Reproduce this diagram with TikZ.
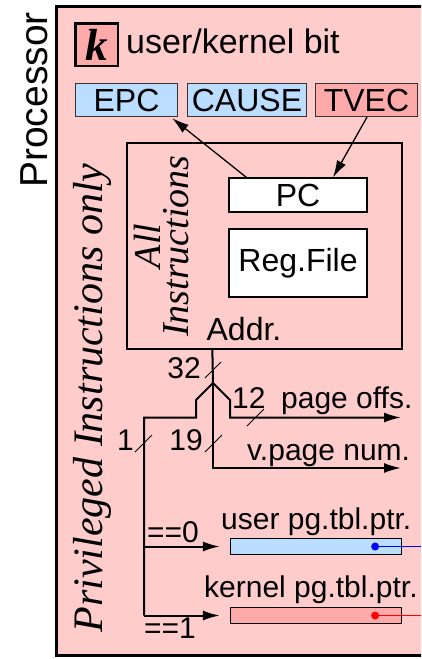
\documentclass[tikz,border=0pt]{standalone}
\usepackage{fontspec}
\setmainfont{Liberation Serif}
\newfontfamily\hv{Liberation Sans}
\usetikzlibrary{arrows.meta,calc}
\definecolor{bgpink}{RGB}{255,204,204}
\definecolor{dkpink}{RGB}{255,170,170}
\definecolor{ltblue}{RGB}{187,221,255}
\begin{document}
\begin{tikzpicture}[x=1pt,y=-1pt,
  lbl/.style={font=\hv\fontsize{30}{30}\selectfont, inner sep=0pt},
  reg/.style={draw=black!80, line width=1.3pt, inner sep=0pt, font=\hv\fontsize{32}{32}\selectfont},
  wbox/.style={draw, line width=1.3pt, inner sep=0pt, font=\hv\fontsize{32}{32}\selectfont},
  bus/.style={line width=2pt, line join=miter},
  arr/.style={-{Latex[length=17pt,width=10pt]}},
  slashmark/.style={line width=1pt},
  ital/.style={inner sep=0pt, rotate=90, anchor=base}
]
\useasboundingbox (0,0) rectangle (421,659);
\clip (0,0) rectangle (421,659);
\draw[line width=3pt, fill=bgpink] (56.5,6) rectangle (440,655.5);
\node[rotate=90, anchor=base, font=\hv\fontsize{39}{39}\selectfont, inner sep=0pt] (proc) at (47,100) {Processor};

% user/kernel bit
\node[draw, line width=2.5pt, fill=dkpink, minimum width=42.5pt, minimum height=42.5pt, inner sep=0pt,
  font=\fontsize{45}{45}\selectfont\bfseries\itshape] (kbit) at (96.5,44.5) {k};
\node[anchor=base west, font=\hv\fontsize{34}{34}\selectfont, inner sep=0pt] (ukb) at (126,53) {user/kernel bit};

% special registers
\node[reg, fill=ltblue, minimum width=102pt, minimum height=33pt] (epc) at (126.5,100) {EPC};
\node[reg, fill=ltblue, minimum width=119pt, minimum height=33pt] (cause) at (247,100) {CAUSE};
\node[reg, fill=dkpink, minimum width=102pt, minimum height=33pt] (tvec) at (366.5,100) {TVEC};

% all instructions box
\node[draw, line width=1.3pt, minimum width=275pt, minimum height=206pt, inner sep=0pt] (inst) at (264.5,246) {};
\node[wbox, fill=white, minimum width=138pt, minimum height=34pt] (pc) at (298,195) {PC};
\node[wbox, fill=white, minimum width=138pt, minimum height=68pt] (regf) at (298,263) {Reg.File};
\node[anchor=base, inner sep=0pt, font=\hv\fontsize{32}{32}\selectfont] (addr) at (244,340) {Addr.};
\node[ital, font=\fontsize{38}{38}\selectfont\itshape] (allA) at (160,246) {All};
\node[ital, font=\fontsize{38}{38}\selectfont\itshape] (allB) at (188,246) {Instructions};
\node[ital, font=\fontsize{42}{42}\selectfont\itshape] (priv) at (102,398) {Privileged Instructions only};

% PC arrows
\draw[arr, line width=1.3pt] ($(pc.north west)+(18,0)$) -- ($(epc.south east)+(-6,1)$);
\draw[arr, line width=1.3pt] ($(tvec.south)+(0.5,0)$) -- ($(pc.north)+(35,0)$);

% address bus
\coordinate (a0) at ($(inst.south west)+(86,0)$);
\coordinate (J) at (213,383);
\coordinate (offs) at (401,417.5);
\coordinate (vpn) at (401,468);
\draw[bus] (a0) -- (J);
\draw[bus, arr] (J) -- (230,400) -- (230,417.5) -- (offs);
\draw[bus, arr] (J) -- (213,468) -- (vpn);
\draw[bus] (J) -- (196,400) -- (196,417.5) -- (144,417.5) -- (144,615.5);

% page table pointers
\node[draw, line width=1.3pt, fill=ltblue, minimum width=171pt, minimum height=16pt, inner sep=0pt] (ubox) at (316,546.5) {};
\node[draw, line width=1.3pt, fill=dkpink, minimum width=171pt, minimum height=16pt, inner sep=0pt] (kbox) at (316,615.5) {};
\draw[bus, arr, shorten >=10pt] (144,546.5) -- (ubox.west);
\draw[bus, arr, shorten >=10pt] (144,615.5) -- (kbox.west);
\coordinate (udot) at ($(ubox.east)+(-27,0)$);
\coordinate (kdot) at ($(kbox.east)+(-27,0)$);
\coordinate (uout) at ($(ubox.east)+(40,0)$);
\coordinate (kout) at ($(kbox.east)+(40,0)$);
\draw[blue, line width=1.4pt] (udot) -- (uout);
\fill[blue] (udot) circle (4pt);
\draw[red, line width=1.4pt] (kdot) -- (kout);
\fill[red] (kdot) circle (4pt);

% width slashes
\draw[slashmark] (205,378) -- (221,362);
\draw[slashmark] (247,426) -- (264,409);
\draw[slashmark] (205,452) -- (222,435);
\draw[slashmark] (135,452) -- (152,435);

% labels
\node[lbl, anchor=base east] (l32) at (201,378) {32};
\node[lbl, anchor=base west] (l12) at (232,408) {12};
\node[lbl, anchor=base west] (lpo) at (281,408) {page offs.};
\node[lbl, anchor=base east] (l19) at (203,450) {19};
\node[lbl, anchor=base east] (l1) at (134,450) {1};
\node[lbl, anchor=base west] (lvpn) at (247,460) {v.page num.};
\node[lbl, anchor=base west] (lu) at (221,529) {user pg.tbl.ptr.};
\node[lbl, anchor=base west] (lk) at (204,597) {kernel pg.tbl.ptr.};
\node[lbl, anchor=base west] (l0) at (147,542) {==0};
\node[lbl, anchor=base west] (leq1) at (144,638) {==1};
\end{tikzpicture}
\end{document}
